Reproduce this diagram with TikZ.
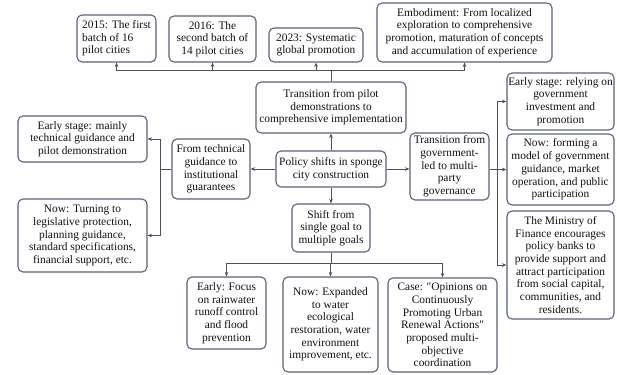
\documentclass[tikz,border=0pt]{standalone}
\usepackage{fontspec}
\setmainfont{Liberation Serif}[Ligatures=TeXOff]
\usetikzlibrary{arrows.meta}
\definecolor{boxc}{HTML}{5A6278}
\definecolor{linec}{HTML}{505050}
\definecolor{txt}{HTML}{111111}
\tikzset{
  bx/.style={draw=boxc, line width=1.1pt, rounded corners=5pt, fill=white, align=center,
    inner sep=0pt, text=txt, font=\fontsize{11.4}{12.7}\selectfont},
  conn/.style={draw=linec, line width=0.8pt},
  arr/.style={conn, -{Stealth[length=4.5pt,width=3.6pt]}}
}
\newcommand{\bxnode}[7]{\node[bx,#1, minimum width={(#5-#3)*1pt}, minimum height={(#6-#4)*1pt}] (#2) at ({(#3+#5)/2},{(#4+#6)/2}) {#7};}
\begin{document}
\begin{tikzpicture}[x=1pt,y=-1pt]
\useasboundingbox (0,0) rectangle (617,374);
% top row
\bxnode{align=left}{y15}{77}{15}{156}{62}{2015: The first\\batch of 16\\pilot cities}
\bxnode{}{y16}{169}{16}{256}{62}{2016: The\\second batch of\\14 pilot cities}
\bxnode{}{y23}{269}{28}{363}{62}{2023: Systematic\\global promotion}
\bxnode{}{emb}{377}{3}{552}{62}{Embodiment: From localized\\exploration to comprehensive\\promotion, maturation of concepts\\and accumulation of experience}
% center column
\bxnode{}{trans}{256}{82}{406}{133}{Transition from pilot\\demonstrations to\\comprehensive implementation}
\bxnode{}{policy}{276}{151}{386}{187}{Policy shifts in sponge\\city construction}
\bxnode{}{shift}{292}{204}{370}{252}{Shift from\\single goal to\\multiple goals}
% left
\bxnode{}{tech}{172}{139}{250}{199}{From technical\\guidance to\\institutional\\guarantees}
\bxnode{}{lEarly}{18}{116}{147}{162}{Early stage: mainly\\technical guidance and\\pilot demonstration}
\bxnode{}{lNow}{18}{199}{147}{272}{Now: Turning to\\legislative protection,\\planning guidance,\\standard specifications,\\financial support, etc.}
% right
\bxnode{}{gov}{410}{133}{489}{200}{Transition from\\government-\\led to multi-\\party\\governance}
\bxnode{}{rEarly}{507}{73}{614}{130}{Early stage: relying on\\government\\investment and\\promotion}
\bxnode{}{rNow}{507}{134}{614}{205}{Now: forming a\\model of government\\guidance, market\\operation, and public\\participation}
\bxnode{}{rMin}{507}{211}{614}{319}{The Ministry of\\Finance encourages\\policy banks to\\provide support and\\attract participation\\from social capital,\\communities, and\\residents.}
% bottom
\bxnode{}{bEarly}{187}{277}{266}{349}{Early: Focus\\on rainwater\\runoff control\\and flood\\prevention}
\bxnode{}{bNow}{283}{277}{378}{372}{Now: Expanded\\to water\\ecological\\restoration, water\\environment\\improvement, etc.}
\bxnode{}{bCase}{388}{278}{497}{372}{Case: "Opinions on\\Continuously\\Promoting Urban\\Renewal Actions"\\proposed multi-\\objective\\coordination}
% junction coordinates
\coordinate (tj) at (331,70);
\coordinate (lj) at (160,169);
\coordinate (rj) at (497,169);
\coordinate (bj) at (331,263);
% connectors
\draw[arr] (policy) -- (trans);
\draw[conn] (trans.north) -- (tj);
\draw[arr] (tj) -| (y15.south);
\draw[arr] (tj) -| (y16.south);
\draw[arr] (tj) -| (y23.south);
\draw[arr] (tj) -| (emb.south);
\draw[arr] (policy.west) -- (tech.east);
\draw[conn] (tech.west) -- (lj);
\draw[arr] (lj) |- (lEarly.east);
\draw[arr] (lj) |- (lNow.east);
\draw[arr] (policy.east) -- (policy.east -| gov.west);
\draw[conn] (gov.east |- rj) -- (rj);
\draw[arr] (rj) |- (rEarly.west);
\draw[arr] (rj) |- (rNow.west);
\draw[arr] (rj) |- (rMin.west);
\draw[arr] (policy) -- (shift);
\draw[conn] (shift.south) -- (bj);
\draw[arr] (bj) -| (bEarly.north);
\draw[arr] (bj) -| (bNow.north);
\draw[arr] (bj) -| (bCase.north);
\end{tikzpicture}
\end{document}
